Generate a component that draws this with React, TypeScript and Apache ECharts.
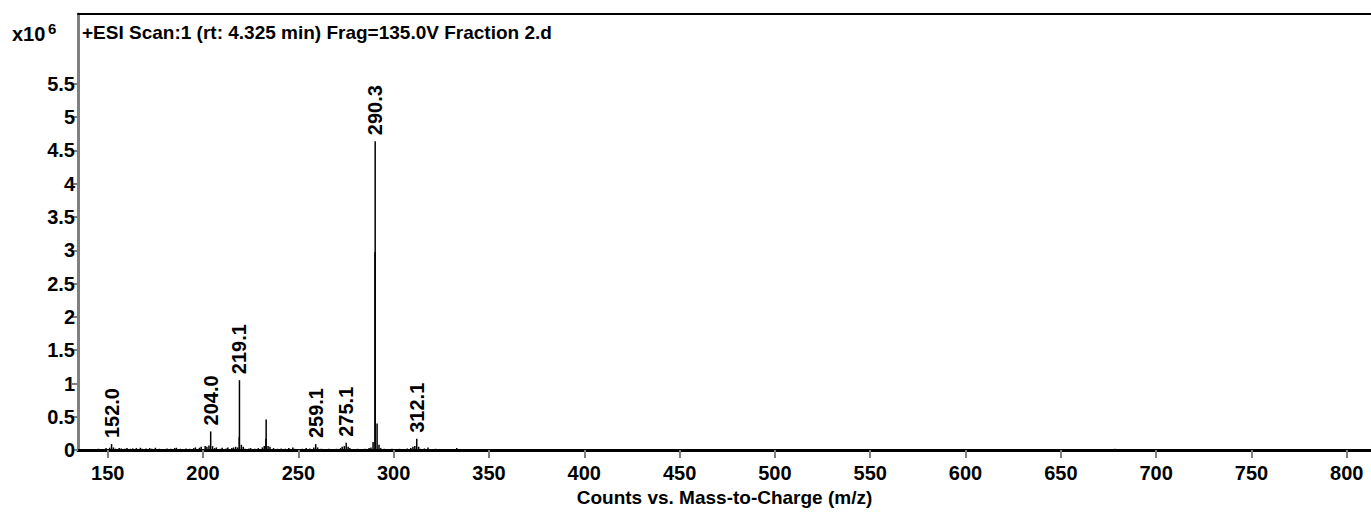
import React, { useEffect, useRef } from "react";
import * as echarts from "echarts";

// ---- data ----
const titleText = "+ESI Scan:1 (rt: 4.325 min) Frag=135.0V Fraction 2.d";
const yScaleText = "x10";
const yScaleExp = "6";
const xAxisName = "Counts vs. Mass-to-Charge (m/z)";

const xTicks = [150, 200, 250, 300, 350, 400, 450, 500, 550, 600, 650, 700, 750, 800];
const yTicks = [0, 0.5, 1, 1.5, 2, 2.5, 3, 3.5, 4, 4.5, 5, 5.5];

// m/z of each stick (spectrum), intensity in counts x10^6
const peakMz = [
  143.0, 145.1, 147.0, 149.1, 151.0, 152.0, 153.0, 154.1, 156.0, 157.1,
  159.0, 160.1, 162.0, 163.1, 165.0, 167.1, 168.0, 170.1, 172.0, 173.1,
  175.0, 177.1, 179.0, 181.1, 183.0, 185.1, 186.0, 188.1, 190.0, 191.1,
  193.0, 195.1, 196.0, 198.1, 199.0, 201.1, 202.0, 203.1, 204.0, 205.0,
  206.1, 207.0, 209.1, 210.0, 212.1, 213.0, 215.1, 216.0, 217.1, 218.1,
  219.0, 219.1, 220.1, 221.1, 222.0, 224.1, 225.0, 227.1, 229.0, 231.1,
  232.1, 233.0, 233.1, 234.1, 235.1, 237.0, 239.1, 241.0, 243.1, 245.0,
  247.1, 248.0, 250.1, 252.0, 254.1, 256.0, 258.1, 259.1, 260.1, 262.0,
  264.1, 266.0, 268.1, 270.0, 272.1, 273.0, 274.1, 275.1, 276.1, 277.0,
  279.1, 281.0, 283.1, 285.0, 287.1, 288.1, 289.2, 290.2, 290.3, 291.3,
  292.3, 293.2, 295.1, 297.0, 299.1, 301.0, 303.1, 305.0, 307.1, 309.0,
  310.1, 311.1, 312.1, 313.1, 314.0, 316.1, 318.0, 320.1, 322.0, 325.1,
  328.0, 333.1, 678.3,
];
const peakIntensity = [
  0.012, 0.02, 0.015, 0.03, 0.035, 0.09, 0.04, 0.02, 0.03, 0.025,
  0.02, 0.03, 0.02, 0.025, 0.03, 0.035, 0.02, 0.025, 0.03, 0.02,
  0.035, 0.02, 0.015, 0.025, 0.02, 0.03, 0.035, 0.02, 0.015, 0.025,
  0.02, 0.03, 0.04, 0.035, 0.05, 0.06, 0.05, 0.07, 0.28, 0.06,
  0.03, 0.04, 0.02, 0.035, 0.025, 0.04, 0.03, 0.04, 0.05, 0.04,
  0.2, 1.05, 0.08, 0.05, 0.02, 0.025, 0.03, 0.02, 0.03, 0.04,
  0.06, 0.17, 0.46, 0.06, 0.05, 0.03, 0.02, 0.025, 0.02, 0.03,
  0.04, 0.02, 0.015, 0.02, 0.03, 0.025, 0.04, 0.09, 0.04, 0.02,
  0.015, 0.02, 0.015, 0.02, 0.03, 0.05, 0.06, 0.11, 0.05, 0.03,
  0.015, 0.02, 0.015, 0.02, 0.03, 0.04, 0.12, 2.97, 4.64, 0.4,
  0.08, 0.03, 0.02, 0.015, 0.02, 0.015, 0.02, 0.015, 0.025, 0.03,
  0.05, 0.06, 0.17, 0.05, 0.02, 0.025, 0.04, 0.015, 0.02, 0.01,
  0.015, 0.03, 0.02,
];

const labelMz = [152.0, 204.0, 219.1, 259.1, 275.1, 290.3, 312.1];
const labelTexts = ["152.0", "204.0", "219.1", "259.1", "275.1", "290.3", "312.1"];

const X_MIN = 134.4;
const X_MAX = 812.7;
const Y_MIN = 0;
const Y_MAX = 6.55;

const FONT = '"Liberation Sans", Arial, Helvetica, sans-serif';

export default function App() {
  const ref = useRef<HTMLDivElement>(null);

  useEffect(() => {
    if (!ref.current) return;
    const chart = echarts.init(ref.current, undefined, { renderer: "svg" });

    const stickData = peakMz.map((m, i) => [m, peakIntensity[i]]);
    const labelData = labelMz.map((m) => [m, peakIntensity[peakMz.indexOf(m)]]);

    const textStyleBase = {
      fontFamily: FONT,
      fontWeight: "bold" as const,
      color: "#000",
    };

    chart.setOption({
      animation: false,
      backgroundColor: "#ffffff",
      grid: { left: 78, top: 14, right: 0, bottom: 60, containLabel: false },
      xAxis: [
        {
          type: "value",
          min: X_MIN,
          max: X_MAX,
          name: xAxisName,
          nameLocation: "middle",
          nameGap: 37,
          nameTextStyle: { ...textStyleBase, fontSize: 19 },
          axisLine: { show: true, onZero: false, lineStyle: { color: "#000", width: 3 } },
          axisTick: {
            show: true,
            customValues: xTicks,
            length: 8,
            lineStyle: { color: "#808080", width: 2 },
          },
          axisLabel: {
            customValues: xTicks,
            ...textStyleBase,
            fontSize: 20,
            margin: 13,
            formatter: (v: number) => String(v),
          },
          splitLine: { show: false },
        },
        {
          type: "value",
          position: "top",
          min: X_MIN,
          max: X_MAX,
          axisLine: { show: true, onZero: false, lineStyle: { color: "#000", width: 2 } },
          axisTick: { show: false },
          axisLabel: { show: false },
          splitLine: { show: false },
        },
      ],
      yAxis: {
        type: "value",
        min: Y_MIN,
        max: Y_MAX,
        axisLine: { show: true, onZero: false, lineStyle: { color: "#808080", width: 3 } },
        axisTick: {
          show: true,
          customValues: yTicks,
          length: 6,
          lineStyle: { color: "#808080", width: 2 },
        },
        axisLabel: {
          customValues: yTicks,
          ...textStyleBase,
          fontSize: 20,
          margin: 3,
          formatter: (v: number) => String(v),
        },
        splitLine: { show: false },
      },
      graphic: [
        {
          type: "text",
          left: 82,
          top: 23,
          style: { text: titleText, font: `bold 19px ${FONT}`, fill: "#000" },
        },
        {
          type: "text",
          left: 12,
          top: 24,
          style: { text: yScaleText, font: `bold 20px ${FONT}`, fill: "#000" },
        },
        {
          type: "text",
          left: 48,
          top: 21,
          style: { text: yScaleExp, font: `bold 15px ${FONT}`, fill: "#000" },
        },
      ],
      series: [
        {
          type: "custom",
          xAxisIndex: 0,
          yAxisIndex: 0,
          data: stickData,
          encode: { x: 0, y: 1 },
          clip: true,
          renderItem: (params: any, api: any) => {
            const x = api.value(0);
            const y = api.value(1);
            const a = api.coord([x, 0]);
            const b = api.coord([x, y]);
            return {
              type: "line",
              shape: { x1: a[0], y1: a[1], x2: b[0], y2: b[1] },
              style: { stroke: "#000", lineWidth: 1.5 },
            };
          },
        },
        {
          type: "custom",
          xAxisIndex: 0,
          yAxisIndex: 0,
          data: labelData,
          encode: { x: 0, y: 1 },
          renderItem: (params: any, api: any) => {
            const x = api.value(0);
            const y = api.value(1);
            const p = api.coord([x, y]);
            return {
              type: "text",
              x: p[0],
              y: p[1] - 6,
              rotation: Math.PI / 2,
              style: {
                text: labelTexts[params.dataIndex],
                font: `bold 20px ${FONT}`,
                fill: "#000",
                align: "left",
                verticalAlign: "middle",
              },
            };
          },
        },
      ],
    });

    return () => {
      chart.dispose();
    };
  }, []);

  return (
    <div
      ref={ref}
      style={{
        position: "fixed",
        left: 0,
        top: 0,
        width: 1371,
        height: 512,
        background: "#fff",
      }}
    />
  );
}
